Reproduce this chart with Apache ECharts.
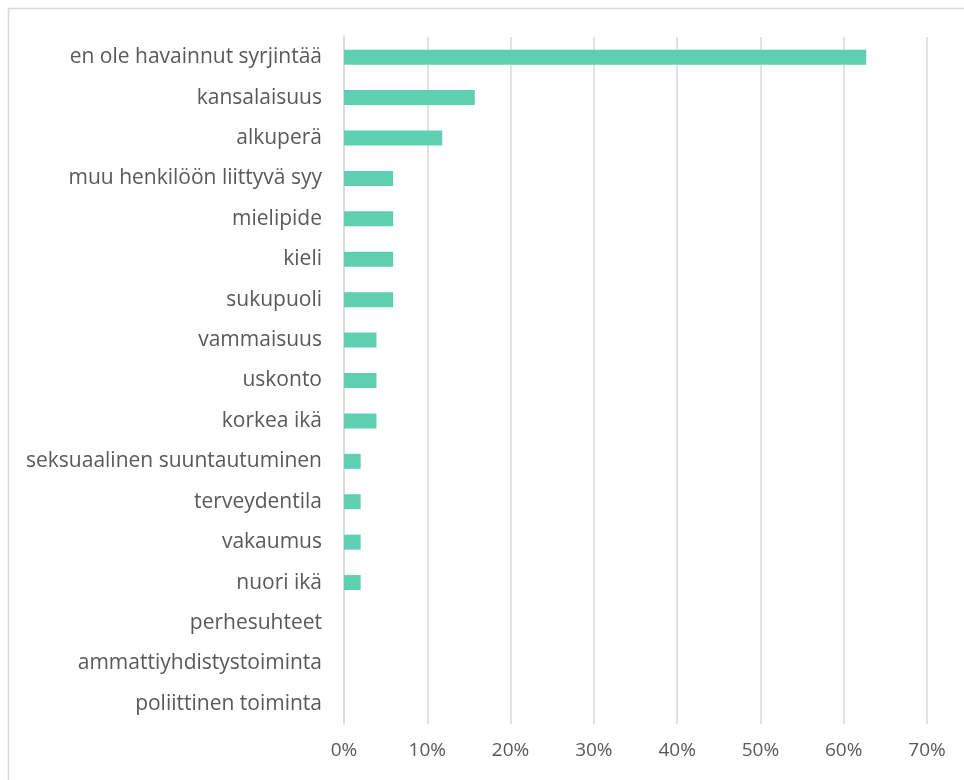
<!DOCTYPE html>
<html>
<head>
<meta charset="utf-8">
<script src="https://cdn.jsdelivr.net/npm/echarts@6/dist/echarts.min.js"></script>
<style>
html,body{margin:0;padding:0;background:#fff;}
#chart{width:964px;height:780px;}
</style>
</head>
<body>
<div id="chart"></div>
<script>
const categories = [
  "en ole havainnut syrjintää",
  "kansalaisuus",
  "alkuperä",
  "muu henkilöön liittyvä syy",
  "mielipide",
  "kieli",
  "sukupuoli",
  "vammaisuus",
  "uskonto",
  "korkea ikä",
  "seksuaalinen suuntautuminen",
  "terveydentila",
  "vakaumus",
  "nuori ikä",
  "perhesuhteet",
  "ammattiyhdistystoiminta",
  "poliittinen toiminta"
];
const values = [62.7, 15.7, 11.8, 5.9, 5.9, 5.9, 5.9, 3.9, 3.9, 3.9, 2.0, 2.0, 2.0, 2.0, 0, 0, 0];
const xTicks = [0, 10, 20, 30, 40, 50, 60, 70];

const chart = echarts.init(document.getElementById('chart'), null, {renderer: 'canvas'});
const font = '"Open Sans", Lato, sans-serif';
chart.setOption({
  animation: false,
  backgroundColor: '#fff',
  graphic: [{
    type: 'rect',
    shape: {x: 8.5, y: 8.5, width: 980, height: 800},
    style: {fill: 'none', stroke: '#d9d9d9', lineWidth: 1.5},
    silent: true
  }],
  grid: {left: 344, right: 37, top: 37, bottom: 56, containLabel: false},
  xAxis: {
    type: 'value',
    min: xTicks[0],
    max: xTicks[xTicks.length - 1],
    interval: 10,
    axisLine: {show: false},
    axisTick: {show: false},
    splitLine: {show: true, lineStyle: {color: '#d9d9d9', width: 1.5}},
    axisLabel: {
      formatter: v => v + '%',
      color: '#595959',
      fontFamily: font,
      fontSize: 19,
      margin: 17
    }
  },
  yAxis: {
    type: 'category',
    data: categories,
    inverse: true,
    axisLine: {show: true, lineStyle: {color: '#d9d9d9', width: 1.5}},
    axisTick: {show: false},
    axisLabel: {
      color: '#595959',
      fontFamily: font,
      fontSize: 21,
      margin: 22
    }
  },
  series: [{
    type: 'bar',
    data: values,
    barWidth: 15,
    itemStyle: {color: '#5ecfb1'}
  }]
});
</script>
</body>
</html>
